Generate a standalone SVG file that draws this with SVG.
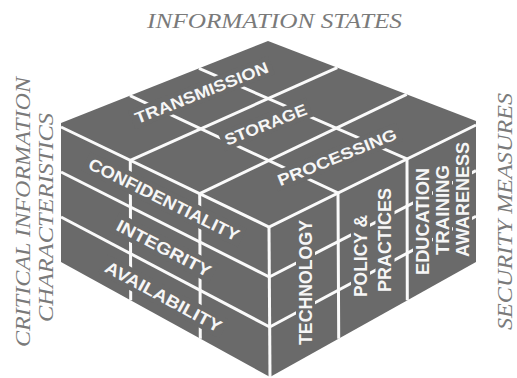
<svg xmlns="http://www.w3.org/2000/svg" width="517" height="378" viewBox="0 0 517 378">
<defs>
<style>
.axis{font-family:"Liberation Serif","Times New Roman",serif;font-style:italic;font-size:21px;fill:#7a7a7a;}
.body{fill:#6a6a6a;}
.grid{stroke:#fafafa;stroke-width:3;fill:none;stroke-linecap:butt;}
.pad{fill:#6a6a6a;}
.lbl{font-family:"Liberation Sans",Arial,sans-serif;font-weight:bold;fill:#f6f6f6;text-anchor:middle;}
.top{font-size:16px;}
.left{font-size:17px;}
.right{font-size:18px;}
</style>
</defs>
<rect width="517" height="378" fill="#ffffff"/>

<g id="axis-labels">
<text id="information-states" class="axis" x="147" y="28" textLength="255" lengthAdjust="spacingAndGlyphs">INFORMATION STATES</text>
<text id="critical-information" class="axis" transform="translate(30,347) rotate(-90)" x="0" y="0" textLength="270" lengthAdjust="spacingAndGlyphs">CRITICAL INFORMATION</text>
<text id="characteristics" class="axis" transform="translate(53,322) rotate(-90)" x="0" y="0" textLength="209" lengthAdjust="spacingAndGlyphs">CHARACTERISTICS</text>
<text id="security-measures" class="axis" transform="translate(511.5,330) rotate(-90)" x="0" y="0" textLength="237" lengthAdjust="spacingAndGlyphs">SECURITY MEASURES</text>
</g>

<g id="cube">
<polygon class="body" points="268,41 476,121 476,262 270,377 61,262 61,123"/>
</g>

<g id="connectors">
<polyline class="grid" points="61,127 269,227 476,125"/>
<line class="grid" x1="269" y1="227" x2="270" y2="377"/>
<line class="grid" x1="130.3" y1="160.3" x2="337.3" y2="67.7"/>
<line class="grid" x1="199.7" y1="193.7" x2="406.7" y2="94.3"/>
<polyline class="grid" points="130,95.7 338,193 338.7,338.7"/>
<polyline class="grid" points="199,68.3 407,159 407.3,300.3"/>
<line class="grid" x1="61" y1="172" x2="269.3" y2="277"/>
<line class="grid" x1="61" y1="217" x2="269.7" y2="327"/>
<line class="grid" x1="130.3" y1="160.3" x2="130.7" y2="300.3"/>
<line class="grid" x1="199.7" y1="193.7" x2="200.3" y2="338.7"/>
<line class="grid" x1="269.3" y1="277" x2="476" y2="170.7"/>
<line class="grid" x1="269.7" y1="327" x2="476" y2="216.3"/>
</g>

<g id="transmission" transform="translate(201.5,92.5) rotate(-21.5)">
<rect class="pad" x="-75" y="-10" width="150" height="20"/>
<text class="lbl top" x="0" y="5.8" textLength="142" lengthAdjust="spacingAndGlyphs">TRANSMISSION</text>
</g>
<g id="storage" transform="translate(265.5,124.5) rotate(-21.5)">
<rect class="pad" x="-47.5" y="-10" width="95" height="20"/>
<text class="lbl top" x="0" y="5.8" textLength="87" lengthAdjust="spacingAndGlyphs">STORAGE</text>
</g>
<g id="processing" transform="translate(337,157) rotate(-22)">
<rect class="pad" x="-67.5" y="-10" width="135" height="20"/>
<text class="lbl top" x="0" y="5.8" textLength="127" lengthAdjust="spacingAndGlyphs">PROCESSING</text>
</g>

<g id="confidentiality" transform="translate(164,199.5) rotate(26.3)">
<rect class="pad" x="-87" y="-10.5" width="174" height="21"/>
<text class="lbl left" x="0" y="6.1" textLength="166" lengthAdjust="spacingAndGlyphs">CONFIDENTIALITY</text>
</g>
<g id="integrity" transform="translate(164,248) rotate(27.5)">
<rect class="pad" x="-56" y="-10.5" width="112" height="21"/>
<text class="lbl left" x="0" y="6.1" textLength="104" lengthAdjust="spacingAndGlyphs">INTEGRITY</text>
</g>
<g id="availability" transform="translate(163.5,296.5) rotate(28.4)">
<rect class="pad" x="-69" y="-10.5" width="138" height="21"/>
<text class="lbl left" x="0" y="6.1" textLength="130" lengthAdjust="spacingAndGlyphs">AVAILABILITY</text>
</g>

<g id="technology" transform="translate(305.5,282.5) rotate(-90)">
<rect class="pad" x="-66.5" y="-9.5" width="133" height="19"/>
<text class="lbl right" x="0" y="6.4" textLength="125" lengthAdjust="spacingAndGlyphs">TECHNOLOGY</text>
</g>
<g id="policy-practices">
<g transform="translate(360.5,256) rotate(-90)">
<rect class="pad" x="-45" y="-9.5" width="90" height="19"/>
<text class="lbl right" x="0" y="6.4" textLength="82" lengthAdjust="spacingAndGlyphs">POLICY &amp;</text>
</g>
<g transform="translate(385,240) rotate(-90)">
<rect class="pad" x="-56" y="-9.5" width="112" height="19"/>
<text class="lbl right" x="0" y="6.4" textLength="104" lengthAdjust="spacingAndGlyphs">PRACTICES</text>
</g>
</g>
<g id="education-training-awareness">
<g transform="translate(422.5,221.5) rotate(-90)">
<rect class="pad" x="-57.5" y="-9.5" width="115" height="19"/>
<text class="lbl right" x="0" y="6.4" textLength="107" lengthAdjust="spacingAndGlyphs">EDUCATION</text>
</g>
<g transform="translate(442.5,210) rotate(-90)">
<rect class="pad" x="-49" y="-9.5" width="98" height="19"/>
<text class="lbl right" x="0" y="6.4" textLength="90" lengthAdjust="spacingAndGlyphs">TRAINING</text>
</g>
<g transform="translate(462.5,199.5) rotate(-90)">
<rect class="pad" x="-61.5" y="-9.5" width="123" height="19"/>
<text class="lbl right" x="0" y="6.4" textLength="115" lengthAdjust="spacingAndGlyphs">AWARENESS</text>
</g>
</g>
</svg>
